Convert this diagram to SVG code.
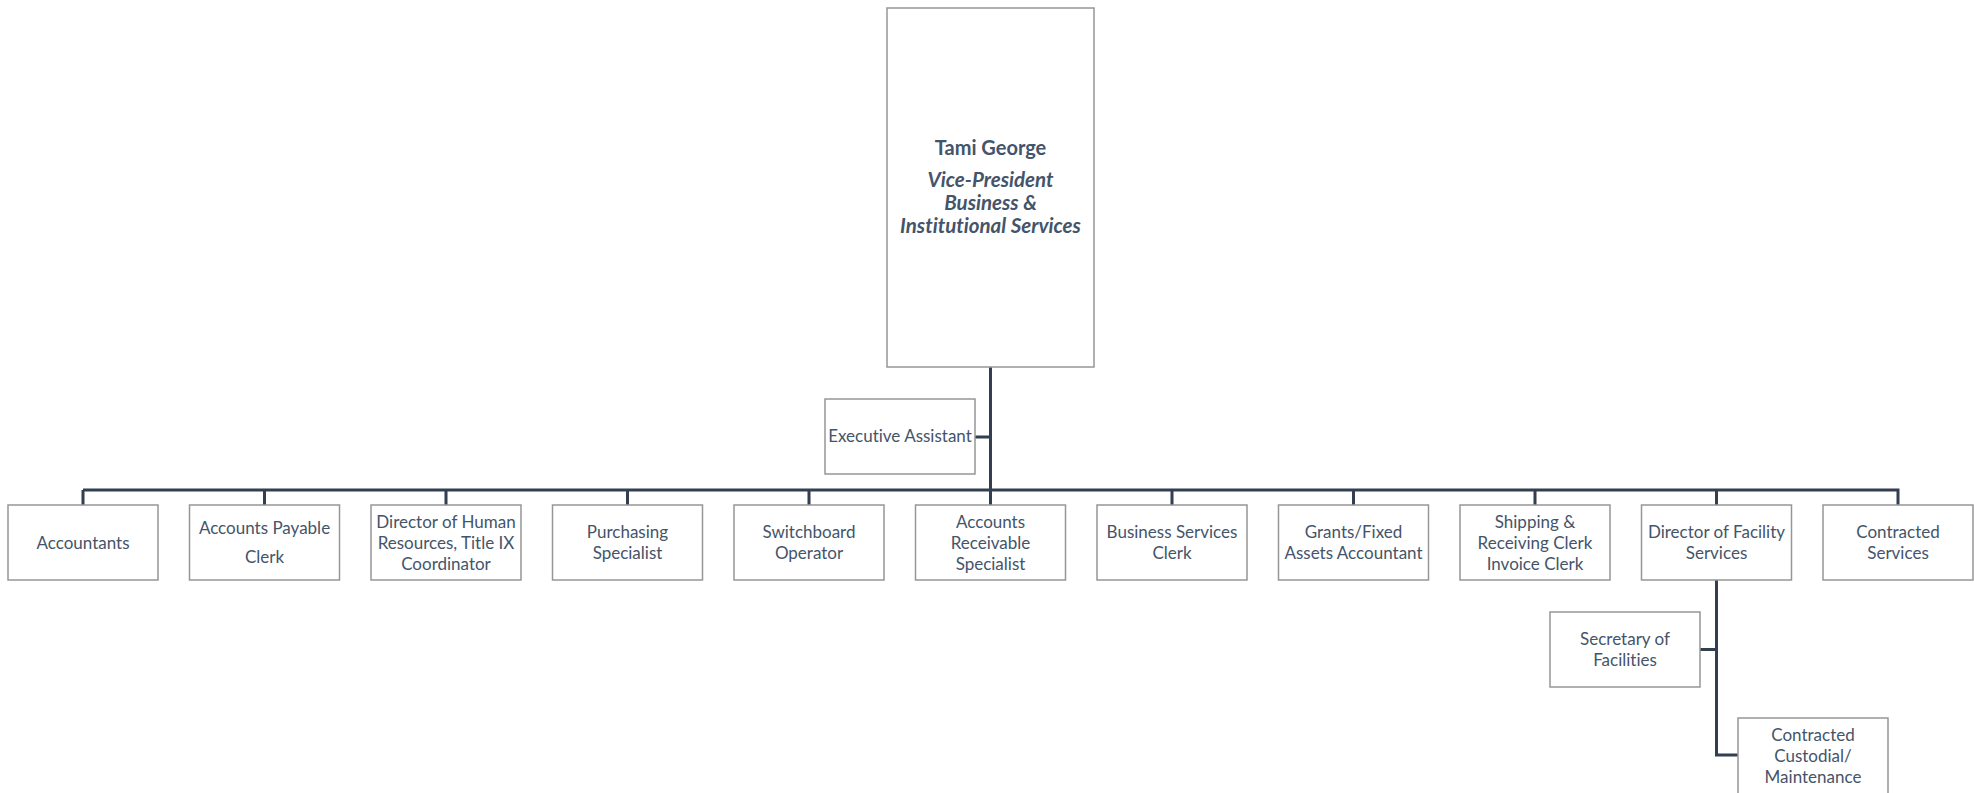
<svg xmlns="http://www.w3.org/2000/svg" width="1974" height="793" viewBox="0 0 1974 793">
<style>
.box{fill:#ffffff;stroke:#969696;stroke-width:1.5}
.t{font-family:Lato,"Open Sans","Liberation Sans",sans-serif;font-size:17px;fill:#44546A;text-anchor:middle;font-variant-ligatures:none;font-feature-settings:"liga" 0}
.b{font-weight:bold;font-size:20px}
.i{font-weight:bold;font-style:italic;font-size:20.5px}
.ln{fill:none;stroke:#333F50;stroke-width:3}
</style>
<rect width="1974" height="793" fill="#ffffff"/>
<g id="connectors">
<path class="ln" d="M990.5 367V505M975 437H990.5M83 490H1898M83 490V505M264.5 490V505M446 490V505M627.5 490V505M809 490V505M1172 490V505M1353.5 490V505M1535 490V505M1716.5 490V505M1898 488.5V505M1716.5 580V755H1738M1700 649.5H1716.5"/>
</g>
<g id="vp">
<rect class="box" x="887" y="8" width="207" height="359"/>
<text class="t b" x="990.5" y="155">Tami George</text>
<text class="t i" x="990.5" y="187">Vice-President</text>
<text class="t i" x="990.5" y="210">Business &amp;</text>
<text class="t i" x="990.5" y="233">Institutional Services</text>
</g>
<g id="exec">
<rect class="box" x="825" y="399" width="150" height="75"/>
<text class="t" x="900" y="442">Executive Assistant</text>
</g>
<g id="accountants">
<rect class="box" x="8" y="505" width="150" height="75"/>
<text class="t" x="83" y="549">Accountants</text>
</g>
<g id="ap">
<rect class="box" x="189.5" y="505" width="150" height="75"/>
<text class="t" x="264.5" y="534">Accounts Payable</text>
<text class="t" x="264.5" y="563">Clerk</text>
</g>
<g id="hr">
<rect class="box" x="371" y="505" width="150" height="75"/>
<text class="t" x="446" y="528">Director of Human</text>
<text class="t" x="446" y="549">Resources, Title IX</text>
<text class="t" x="446" y="570">Coordinator</text>
</g>
<g id="purchasing">
<rect class="box" x="552.5" y="505" width="150" height="75"/>
<text class="t" x="627.5" y="538">Purchasing</text>
<text class="t" x="627.5" y="559">Specialist</text>
</g>
<g id="switchboard">
<rect class="box" x="734" y="505" width="150" height="75"/>
<text class="t" x="809" y="538">Switchboard</text>
<text class="t" x="809" y="559">Operator</text>
</g>
<g id="ar">
<rect class="box" x="915.5" y="505" width="150" height="75"/>
<text class="t" x="990.5" y="528">Accounts</text>
<text class="t" x="990.5" y="549">Receivable</text>
<text class="t" x="990.5" y="570">Specialist</text>
</g>
<g id="bsclerk">
<rect class="box" x="1097" y="505" width="150" height="75"/>
<text class="t" x="1172" y="538">Business Services</text>
<text class="t" x="1172" y="559">Clerk</text>
</g>
<g id="grants">
<rect class="box" x="1278.5" y="505" width="150" height="75"/>
<text class="t" x="1353.5" y="538">Grants/Fixed</text>
<text class="t" x="1353.5" y="559">Assets Accountant</text>
</g>
<g id="shipping">
<rect class="box" x="1460" y="505" width="150" height="75"/>
<text class="t" x="1535" y="528">Shipping &amp;</text>
<text class="t" x="1535" y="549">Receiving Clerk</text>
<text class="t" x="1535" y="570">Invoice Clerk</text>
</g>
<g id="facility">
<rect class="box" x="1641.5" y="505" width="150" height="75"/>
<text class="t" x="1716.5" y="538">Director of Facility</text>
<text class="t" x="1716.5" y="559">Services</text>
</g>
<g id="contracted">
<rect class="box" x="1823" y="505" width="150" height="75"/>
<text class="t" x="1898" y="538">Contracted</text>
<text class="t" x="1898" y="559">Services</text>
</g>
<g id="secretary">
<rect class="box" x="1550" y="612" width="150" height="75"/>
<text class="t" x="1625" y="645">Secretary of</text>
<text class="t" x="1625" y="666">Facilities</text>
</g>
<g id="custodial">
<rect class="box" x="1738" y="718" width="150" height="80"/>
<text class="t" x="1813" y="741">Contracted</text>
<text class="t" x="1813" y="762">Custodial/</text>
<text class="t" x="1813" y="783">Maintenance</text>
</g>
</svg>
